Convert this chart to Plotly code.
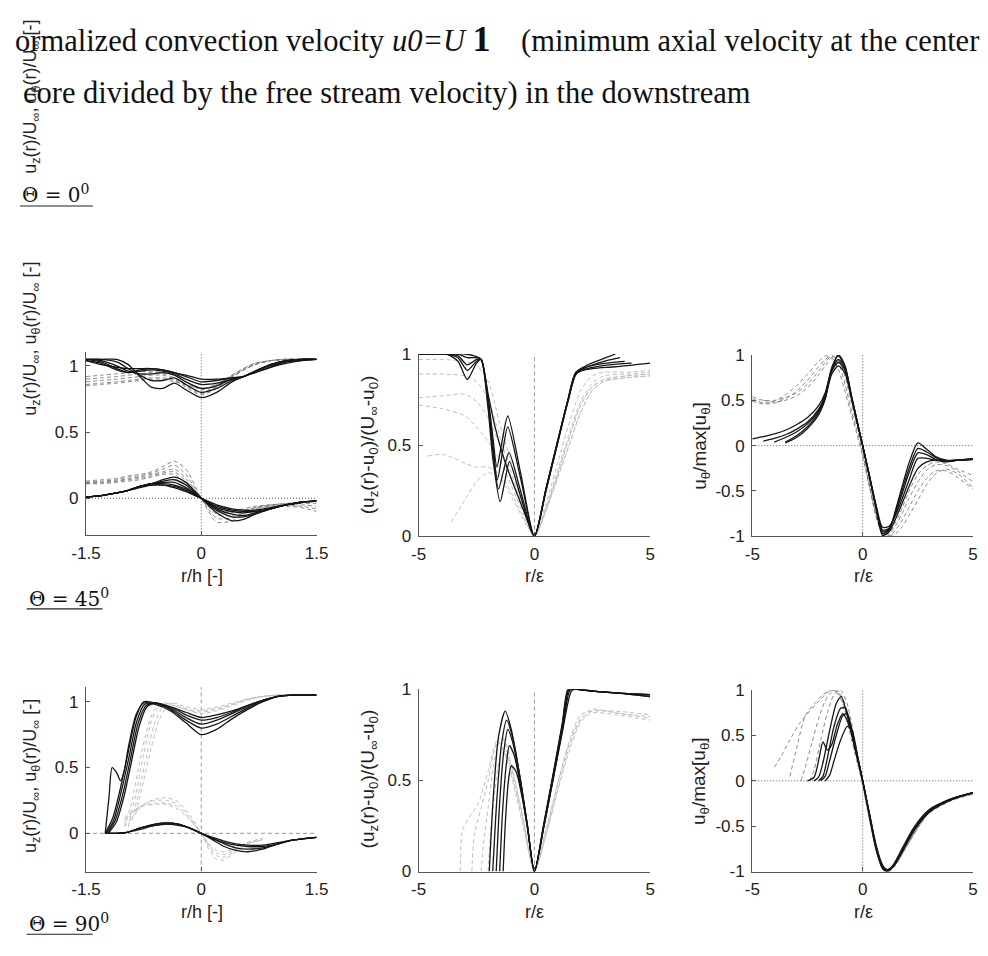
import plotly.graph_objects as go

W, H = 988, 956

# ---------------- DATA ----------------
# Panel 1 : Theta = 0 deg, u_z/U and u_theta/U versus r/h
P1_X = [-1.5, -1.3, -1.1, -0.95, -0.8, -0.65, -0.5, -0.35, -0.2, 0.0, 0.2, 0.4, 0.55, 0.7, 0.9, 1.1, 1.3, 1.5]
P1_UZ_SOLID = [
    [1.05, 1.05, 1.05, 1.01, 0.92, 0.84, 0.83, 0.87, 0.82, 0.76, 0.80, 0.88, 0.92, 0.96, 1.01, 1.04, 1.05, 1.05],
    [1.05, 1.05, 1.03, 0.98, 0.93, 0.89, 0.89, 0.91, 0.86, 0.80, 0.83, 0.89, 0.92, 0.96, 1.01, 1.04, 1.05, 1.05],
    [1.05, 1.04, 1.00, 0.96, 0.94, 0.94, 0.95, 0.93, 0.88, 0.83, 0.85, 0.90, 0.92, 0.96, 1.01, 1.04, 1.05, 1.05],
    [1.05, 1.03, 0.98, 0.95, 0.96, 0.97, 0.96, 0.94, 0.90, 0.86, 0.87, 0.90, 0.92, 0.96, 1.00, 1.03, 1.05, 1.05],
    [1.04, 1.02, 0.97, 0.95, 0.97, 0.98, 0.97, 0.95, 0.92, 0.88, 0.89, 0.91, 0.92, 0.95, 0.99, 1.03, 1.04, 1.05],
    [1.04, 1.01, 0.99, 0.98, 0.98, 0.98, 0.97, 0.95, 0.93, 0.90, 0.90, 0.91, 0.92, 0.95, 0.99, 1.02, 1.04, 1.05],
]
P1_UZ_DASH = [
    [0.92, 0.93, 0.94, 0.95, 0.96, 0.96, 0.95, 0.93, 0.88, 0.82, 0.86, 0.93, 0.98, 1.02, 1.04, 1.05, 1.05, 1.05],
    [0.90, 0.91, 0.92, 0.93, 0.94, 0.95, 0.94, 0.91, 0.86, 0.80, 0.85, 0.93, 0.98, 1.02, 1.04, 1.05, 1.05, 1.05],
    [0.88, 0.89, 0.90, 0.91, 0.92, 0.93, 0.93, 0.90, 0.85, 0.79, 0.84, 0.92, 0.97, 1.01, 1.04, 1.05, 1.05, 1.05],
    [0.86, 0.87, 0.88, 0.89, 0.90, 0.91, 0.91, 0.89, 0.84, 0.78, 0.83, 0.91, 0.97, 1.01, 1.04, 1.05, 1.05, 1.05],
    [0.85, 0.86, 0.87, 0.88, 0.89, 0.90, 0.90, 0.88, 0.86, 0.83, 0.86, 0.92, 0.97, 1.01, 1.04, 1.05, 1.05, 1.05],
]
P1_UT_SOLID = [
    [0.01, 0.02, 0.04, 0.06, 0.09, 0.11, 0.14, 0.16, 0.12, 0.00, -0.11, -0.17, -0.16, -0.12, -0.08, -0.05, -0.03, -0.02],
    [0.01, 0.02, 0.04, 0.06, 0.09, 0.11, 0.13, 0.14, 0.10, 0.00, -0.09, -0.14, -0.14, -0.12, -0.08, -0.05, -0.03, -0.02],
    [0.01, 0.02, 0.04, 0.06, 0.09, 0.11, 0.12, 0.12, 0.08, 0.00, -0.08, -0.12, -0.13, -0.11, -0.08, -0.05, -0.03, -0.02],
    [0.01, 0.02, 0.04, 0.06, 0.09, 0.11, 0.11, 0.10, 0.07, 0.00, -0.07, -0.10, -0.11, -0.10, -0.08, -0.05, -0.03, -0.02],
    [0.01, 0.02, 0.04, 0.06, 0.09, 0.10, 0.10, 0.09, 0.06, 0.00, -0.06, -0.09, -0.10, -0.10, -0.08, -0.05, -0.03, -0.02],
    [0.01, 0.02, 0.04, 0.06, 0.08, 0.10, 0.10, 0.08, 0.05, 0.00, -0.05, -0.08, -0.09, -0.09, -0.07, -0.05, -0.03, -0.02],
]
P1_UT_DASH = [
    [0.13, 0.14, 0.15, 0.17, 0.18, 0.20, 0.24, 0.28, 0.22, 0.00, -0.18, -0.17, -0.12, -0.08, -0.06, -0.05, -0.06, -0.08],
    [0.12, 0.13, 0.14, 0.16, 0.17, 0.19, 0.22, 0.25, 0.18, 0.00, -0.15, -0.15, -0.11, -0.08, -0.06, -0.06, -0.07, -0.10],
    [0.12, 0.12, 0.13, 0.15, 0.16, 0.18, 0.20, 0.22, 0.15, 0.00, -0.12, -0.13, -0.10, -0.07, -0.05, -0.05, -0.05, -0.06],
    [0.11, 0.12, 0.13, 0.14, 0.15, 0.17, 0.19, 0.20, 0.13, 0.00, -0.10, -0.11, -0.09, -0.07, -0.05, -0.04, -0.04, -0.04],
    [0.11, 0.11, 0.12, 0.13, 0.14, 0.16, 0.18, 0.18, 0.11, 0.00, -0.09, -0.10, -0.08, -0.06, -0.05, -0.04, -0.03, -0.03],
]

# Panel 2 : Theta = 0 deg, (u_z - u0)/(U - u0) versus r/eps
P2_SOLID_X = [
    [-5, -3.8, -3.3, -2.9, -2.5, -2.3, -2.0, -1.8, -1.62, -1.4, -1.15, -0.6, 0, 0.5, 1.0, 1.45, 1.8, 2.3, 2.9, 3.5],
    [-5, -3.8, -3.3, -2.9, -2.5, -2.3, -2.0, -1.8, -1.6, -1.38, -1.15, -0.6, 0, 0.5, 1.0, 1.45, 1.8, 2.3, 3.0, 3.7],
    [-5, -3.8, -3.3, -2.9, -2.5, -2.3, -2.0, -1.8, -1.55, -1.33, -1.1, -0.6, 0, 0.5, 1.0, 1.45, 1.8, 2.3, 3.1, 3.9],
    [-5, -3.8, -3.3, -2.9, -2.5, -2.3, -2.0, -1.8, -1.48, -1.28, -1.08, -0.6, 0, 0.5, 1.0, 1.45, 1.8, 2.3, 3.2, 4.2],
    [-5, -3.0, -2.6, -2.3, -2.0, -1.7, -1.3, -0.8, -0.4, 0, 0.5, 1.0, 1.45, 1.8, 2.5, 3.5, 5.0],
]
P2_SOLID_Y = [
    [1, 1, 0.96, 0.86, 0.95, 0.97, 0.76, 0.55, 0.38, 0.52, 0.66, 0.35, 0, 0.26, 0.52, 0.75, 0.90, 0.94, 0.97, 1.0],
    [1, 1, 0.98, 0.91, 0.96, 0.97, 0.74, 0.51, 0.31, 0.46, 0.60, 0.32, 0, 0.26, 0.52, 0.75, 0.90, 0.93, 0.96, 0.98],
    [1, 1, 0.99, 0.94, 0.97, 0.97, 0.72, 0.47, 0.26, 0.36, 0.46, 0.25, 0, 0.25, 0.51, 0.74, 0.89, 0.93, 0.95, 0.96],
    [1, 1, 1, 0.98, 0.98, 0.97, 0.70, 0.43, 0.19, 0.30, 0.41, 0.22, 0, 0.25, 0.51, 0.74, 0.89, 0.92, 0.94, 0.95],
    [1, 1, 0.99, 0.97, 0.78, 0.60, 0.42, 0.25, 0.12, 0, 0.26, 0.52, 0.75, 0.90, 0.92, 0.93, 0.95],
]
P2_DASH_X = [
    [-5, -4, -3, -2.5, -2, -1.5, -1, -0.5, 0, 0.5, 1, 1.5, 2, 2.5, 3, 4, 5],
    [-5, -4, -3, -2.5, -2, -1.5, -1, -0.5, 0, 0.5, 1, 1.5, 2, 2.5, 3, 4, 5],
    [-5, -4, -3, -2.5, -2, -1.5, -1, -0.5, 0, 0.5, 1, 1.5, 2, 2.5, 3, 4, 5],
    [-5, -4, -3, -2.5, -2, -1.5, -1, -0.5, 0, 0.5, 1, 1.5, 2, 2.5, 3, 4, 5],
    [-4.6, -4, -3.5, -3, -2.5, -2, -1.5, -1, -0.5, 0, 0.5, 1, 1.5, 2, 2.5, 3, 4, 5],
    [-3.6, -3, -2.5, -2, -1.5, -1, -0.5, 0, 0.5, 1, 1.5, 2, 2.5, 3, 4, 5],
]
P2_DASH_Y = [
    [0.97, 0.97, 0.96, 0.94, 0.85, 0.62, 0.40, 0.18, 0, 0.18, 0.40, 0.62, 0.80, 0.88, 0.90, 0.90, 0.91],
    [0.89, 0.89, 0.88, 0.85, 0.75, 0.55, 0.35, 0.16, 0, 0.16, 0.36, 0.56, 0.74, 0.84, 0.88, 0.89, 0.90],
    [0.76, 0.77, 0.78, 0.74, 0.65, 0.50, 0.32, 0.15, 0, 0.15, 0.34, 0.54, 0.72, 0.82, 0.86, 0.88, 0.89],
    [0.72, 0.70, 0.66, 0.60, 0.52, 0.42, 0.28, 0.13, 0, 0.14, 0.32, 0.50, 0.68, 0.80, 0.85, 0.87, 0.88],
    [0.44, 0.45, 0.43, 0.40, 0.38, 0.38, 0.34, 0.24, 0.11, 0, 0.14, 0.32, 0.50, 0.68, 0.80, 0.85, 0.87, 0.88],
    [0.08, 0.20, 0.30, 0.35, 0.32, 0.22, 0.10, 0, 0.15, 0.34, 0.54, 0.72, 0.82, 0.86, 0.88, 0.89],
]

# Panel 3 : Theta = 0 deg, u_theta / max(u_theta) versus r/eps
P3_X = [-5, -4.5, -4, -3.5, -3, -2.5, -2, -1.7, -1.4, -1.1, -0.8, -0.5, -0.25, 0, 0.3, 0.6, 0.9, 1.2, 1.5, 1.8, 2.1, 2.5, 2.9, 3.3, 3.8, 4.3, 5]
P3_SOLID = [
    [0.075, 0.10, 0.13, 0.17, 0.23, 0.31, 0.44, 0.58, 0.86, 1.0, 0.88, 0.54, 0.27, 0.0, -0.33, -0.68, -0.97, -0.93, -0.70, -0.44, -0.19, 0.03, -0.04, -0.12, -0.16, -0.16, -0.15],
    [None, 0.05, 0.08, 0.12, 0.18, 0.26, 0.40, 0.56, 0.84, 0.95, 0.85, 0.53, 0.26, 0, -0.33, -0.67, -0.95, -0.92, -0.72, -0.48, -0.25, -0.03, -0.07, -0.13, -0.17, -0.16, -0.15],
    [None, None, 0.04, 0.09, 0.15, 0.24, 0.38, 0.54, 0.82, 0.92, 0.83, 0.52, 0.26, 0, -0.33, -0.66, -0.93, -0.91, -0.74, -0.52, -0.30, -0.08, -0.10, -0.15, -0.17, -0.16, -0.15],
    [None, None, None, 0.04, 0.11, 0.21, 0.36, 0.52, 0.79, 0.88, 0.80, 0.51, 0.25, 0, -0.32, -0.65, -0.90, -0.89, -0.76, -0.58, -0.38, -0.14, -0.14, -0.16, -0.17, -0.16, -0.15],
    [None, None, None, 0.03, 0.09, 0.19, 0.34, 0.51, 0.85, 0.99, 0.87, 0.54, 0.27, 0, -0.34, -0.69, -0.99, -0.95, -0.80, -0.63, -0.45, -0.25, -0.18, -0.16, -0.18, -0.16, -0.15],
]
P3_DASH = [
    [0.52, 0.47, 0.49, 0.56, 0.66, 0.79, 0.93, 0.99, 0.97, 0.84, 0.60, 0.33, 0.12, -0.12, -0.45, -0.74, -0.92, -0.99, -0.97, -0.89, -0.77, -0.60, -0.43, -0.31, -0.26, -0.31, -0.46],
    [0.49, 0.46, 0.47, 0.52, 0.60, 0.72, 0.87, 0.95, 0.99, 0.91, 0.68, 0.38, 0.16, -0.08, -0.44, -0.76, -0.95, -0.99, -0.93, -0.82, -0.68, -0.50, -0.36, -0.28, -0.28, -0.35, -0.48],
    [0.54, 0.50, 0.50, 0.53, 0.58, 0.68, 0.82, 0.92, 0.99, 0.95, 0.76, 0.46, 0.21, -0.05, -0.43, -0.77, -0.96, -0.97, -0.88, -0.74, -0.58, -0.40, -0.27, -0.21, -0.22, -0.28, -0.40],
    [None, 0.50, 0.48, 0.50, 0.55, 0.64, 0.78, 0.88, 0.97, 0.99, 0.83, 0.52, 0.25, -0.03, -0.42, -0.78, -0.97, -0.96, -0.84, -0.68, -0.50, -0.32, -0.22, -0.18, -0.20, -0.26, -0.33],
]

# Panel 4 : Theta = 45 deg, u_z/U and u_theta/U versus r/h
P4_UZ_SOLID_X = [
    [-1.25, -1.2, -1.16, -1.1, -1.05, -1.0, -0.95, -0.85, -0.75, -0.6, -0.4, -0.2, 0, 0.2, 0.4, 0.6, 0.8, 1.0, 1.2, 1.5],
    [-1.25, -1.15, -1.05, -0.95, -0.85, -0.75, -0.6, -0.4, -0.2, 0, 0.2, 0.4, 0.6, 0.8, 1.0, 1.2, 1.5],
    [-1.24, -1.14, -1.04, -0.94, -0.84, -0.74, -0.6, -0.4, -0.2, 0, 0.2, 0.4, 0.6, 0.8, 1.0, 1.2, 1.5],
    [-1.22, -1.12, -1.02, -0.92, -0.82, -0.72, -0.6, -0.4, -0.2, 0, 0.2, 0.4, 0.6, 0.8, 1.0, 1.2, 1.5],
    [-1.21, -1.11, -1.01, -0.91, -0.81, -0.71, -0.6, -0.4, -0.2, 0, 0.2, 0.4, 0.6, 0.8, 1.0, 1.2, 1.5],
]
P4_UZ_SOLID_Y = [
    [0, 0.28, 0.50, 0.46, 0.40, 0.48, 0.65, 0.90, 0.99, 0.98, 0.93, 0.84, 0.75, 0.79, 0.87, 0.94, 1.00, 1.04, 1.05, 1.05],
    [0, 0.12, 0.35, 0.62, 0.88, 1.00, 0.99, 0.94, 0.86, 0.80, 0.83, 0.89, 0.95, 1.00, 1.04, 1.05, 1.05],
    [0, 0.10, 0.32, 0.58, 0.85, 0.98, 0.99, 0.95, 0.88, 0.83, 0.86, 0.91, 0.96, 1.01, 1.04, 1.05, 1.05],
    [0, 0.10, 0.30, 0.57, 0.84, 0.97, 0.99, 0.96, 0.90, 0.86, 0.88, 0.92, 0.97, 1.01, 1.04, 1.05, 1.05],
    [0, 0.08, 0.27, 0.54, 0.81, 0.96, 0.99, 0.96, 0.92, 0.88, 0.90, 0.93, 0.97, 1.01, 1.04, 1.05, 1.05],
]
P4_UZ_DASH_X = [
    [-1.0, -0.9, -0.8, -0.7, -0.6, -0.5, -0.35, -0.2, 0, 0.2, 0.4, 0.6, 0.8, 1.0, 1.5],
    [-0.95, -0.85, -0.75, -0.65, -0.55, -0.45, -0.3, -0.15, 0, 0.2, 0.4, 0.6, 0.8, 1.0, 1.5],
    [-0.9, -0.8, -0.7, -0.6, -0.5, -0.4, -0.3, -0.15, 0, 0.2, 0.4, 0.6, 0.8, 1.0, 1.5],
    [-0.85, -0.75, -0.65, -0.55, -0.45, -0.35, -0.25, -0.1, 0, 0.2, 0.4, 0.6, 0.8, 1.0, 1.5],
]
P4_UZ_DASH_Y = [
    [0.05, 0.25, 0.55, 0.80, 0.95, 0.99, 0.97, 0.94, 0.92, 0.94, 0.98, 1.02, 1.04, 1.05, 1.05],
    [0.05, 0.30, 0.60, 0.85, 0.96, 0.99, 0.96, 0.93, 0.91, 0.93, 0.97, 1.01, 1.04, 1.05, 1.05],
    [0.10, 0.35, 0.62, 0.85, 0.96, 0.99, 0.97, 0.94, 0.93, 0.95, 0.98, 1.02, 1.04, 1.05, 1.05],
    [0.15, 0.40, 0.65, 0.86, 0.96, 0.99, 0.97, 0.95, 0.94, 0.96, 0.99, 1.02, 1.04, 1.05, 1.05],
]
P4_UT_SOLID_X = [-1.25, -1.1, -0.95, -0.8, -0.6, -0.45, -0.3, -0.15, 0, 0.15, 0.3, 0.45, 0.6, 0.8, 1.0, 1.2, 1.5]
P4_UT_SOLID = [
    [0, 0, 0.01, 0.04, 0.07, 0.08, 0.07, 0.04, 0, -0.05, -0.10, -0.13, -0.14, -0.12, -0.08, -0.05, -0.03],
    [0, 0, 0.01, 0.04, 0.07, 0.08, 0.07, 0.04, 0, -0.04, -0.08, -0.11, -0.12, -0.11, -0.08, -0.05, -0.03],
    [0, 0, 0.01, 0.04, 0.06, 0.07, 0.07, 0.04, 0, -0.04, -0.07, -0.09, -0.10, -0.10, -0.08, -0.05, -0.03],
    [0, 0, 0.01, 0.03, 0.06, 0.07, 0.06, 0.04, 0, -0.03, -0.06, -0.08, -0.09, -0.09, -0.07, -0.05, -0.03],
]
P4_UT_DASH_X = [-1.0, -0.9, -0.75, -0.6, -0.45, -0.3, -0.15, 0, 0.1, 0.2, 0.3, 0.45, 0.6, 0.8]
P4_UT_DASH = [
    [0.05, 0.12, 0.22, 0.26, 0.27, 0.24, 0.14, 0, -0.12, -0.20, -0.20, -0.14, -0.08, -0.05],
    [0.08, 0.15, 0.22, 0.25, 0.25, 0.22, 0.12, 0, -0.10, -0.17, -0.18, -0.13, -0.08, -0.05],
    [0.10, 0.16, 0.21, 0.23, 0.23, 0.20, 0.11, 0, -0.09, -0.15, -0.16, -0.12, -0.07, -0.04],
    [0.12, 0.17, 0.21, 0.22, 0.22, 0.18, 0.10, 0, -0.08, -0.13, -0.14, -0.11, -0.07, -0.04],
]

# Panel 5 : Theta = 45 deg, (u_z - u0)/(U - u0) versus r/eps
P5_SOLID_X = [
    [-1.95, -1.78, -1.55, -1.26, -1.0, -0.6, -0.3, 0, 0.4, 0.8, 1.2, 1.6, 1.8, 2.5, 3.5, 5],
    [-1.8, -1.62, -1.42, -1.2, -0.95, -0.6, -0.3, 0, 0.4, 0.8, 1.2, 1.55, 1.75, 2.5, 3.5, 5],
    [-1.65, -1.5, -1.32, -1.15, -0.92, -0.6, -0.3, 0, 0.4, 0.8, 1.2, 1.5, 1.7, 2.5, 3.5, 5],
    [-1.5, -1.38, -1.22, -1.08, -0.88, -0.6, -0.3, 0, 0.4, 0.8, 1.2, 1.45, 1.65, 2.5, 3.5, 5],
    [-1.35, -1.25, -1.12, -1.0, -0.8, -0.55, -0.3, 0, 0.4, 0.8, 1.2, 1.45, 1.65, 2.5, 3.5, 5],
]
P5_SOLID_Y = [
    [0, 0.40, 0.74, 0.88, 0.78, 0.50, 0.25, 0, 0.24, 0.50, 0.76, 0.99, 1.0, 0.99, 0.98, 0.97],
    [0, 0.40, 0.70, 0.83, 0.74, 0.50, 0.25, 0, 0.24, 0.50, 0.77, 1.0, 1.0, 0.99, 0.98, 0.97],
    [0, 0.38, 0.66, 0.78, 0.70, 0.49, 0.25, 0, 0.25, 0.52, 0.79, 1.0, 1.0, 0.99, 0.98, 0.97],
    [0, 0.32, 0.58, 0.69, 0.64, 0.47, 0.24, 0, 0.25, 0.52, 0.80, 0.99, 1.0, 0.99, 0.98, 0.96],
    [0, 0.28, 0.50, 0.58, 0.55, 0.42, 0.24, 0, 0.26, 0.53, 0.81, 1.0, 1.0, 0.99, 0.98, 0.96],
]
P5_DASH_X = [
    [-3.2, -3.1, -2.8, -2.4, -2.0, -1.6, -1.2, -0.8, -0.4, 0, 0.4, 0.8, 1.2, 1.6, 2.0, 2.5, 3.0, 4.0, 5.0],
    [-2.7, -2.6, -2.3, -2.0, -1.7, -1.4, -1.0, -0.5, 0, 0.5, 1.0, 1.5, 2.0, 2.5, 3.5, 5],
    [-2.3, -2.2, -2.0, -1.8, -1.55, -1.3, -0.9, -0.5, 0, 0.5, 1.0, 1.5, 2.0, 2.5, 3.5, 5],
    [-2.0, -1.9, -1.7, -1.5, -1.3, -1.0, -0.5, 0, 0.5, 1.0, 1.5, 2.0, 2.5, 3.5, 5],
]
P5_DASH_Y = [
    [0.0, 0.23, 0.30, 0.38, 0.55, 0.72, 0.62, 0.42, 0.20, 0, 0.18, 0.38, 0.58, 0.75, 0.86, 0.88, 0.88, 0.86, 0.84],
    [0, 0.20, 0.35, 0.50, 0.68, 0.74, 0.55, 0.28, 0, 0.22, 0.48, 0.70, 0.84, 0.89, 0.87, 0.85],
    [0, 0.15, 0.35, 0.55, 0.70, 0.72, 0.52, 0.30, 0, 0.20, 0.45, 0.68, 0.83, 0.88, 0.88, 0.86],
    [0, 0.20, 0.45, 0.62, 0.66, 0.58, 0.30, 0, 0.20, 0.44, 0.66, 0.82, 0.87, 0.86, 0.83],
]

# Panel 6 : Theta = 45 deg, u_theta / max(u_theta) versus r/eps
P6_SOLID_X = [
    [-2.5, -2.2, -1.95, -1.8, -1.6, -1.4, -1.15, -0.9, -0.6, -0.3, 0, 0.3, 0.6, 0.9, 1.1, 1.4, 1.8, 2.3, 3.0, 4.0, 5.0],
    [-2.2, -2.0, -1.8, -1.5, -1.2, -0.97, -0.6, -0.3, 0, 0.3, 0.6, 0.9, 1.1, 1.4, 1.8, 2.3, 3.0, 4.0, 5.0],
    [-2.0, -1.8, -1.6, -1.3, -1.0, -0.78, -0.4, 0, 0.3, 0.6, 0.9, 1.1, 1.4, 1.8, 2.3, 3.0, 4.0, 5.0],
    [-1.9, -1.7, -1.5, -1.2, -0.9, -0.7, -0.35, 0, 0.3, 0.6, 0.9, 1.1, 1.4, 1.8, 2.3, 3.0, 4.0, 5.0],
    [-1.7, -1.5, -1.3, -1.0, -0.7, -0.5, -0.25, 0, 0.3, 0.6, 0.9, 1.1, 1.4, 1.8, 2.3, 3.0, 4.0, 5.0],
]
P6_SOLID_Y = [
    [0, 0.04, 0.28, 0.43, 0.34, 0.40, 0.62, 0.74, 0.60, 0.31, 0, -0.36, -0.72, -0.95, -1.0, -0.94, -0.77, -0.55, -0.34, -0.21, -0.13],
    [0, 0.04, 0.20, 0.55, 0.85, 0.93, 0.62, 0.31, 0, -0.38, -0.75, -0.97, -1.0, -0.92, -0.74, -0.52, -0.32, -0.20, -0.13],
    [0, 0.05, 0.25, 0.60, 0.80, 0.80, 0.42, 0, -0.37, -0.73, -0.95, -0.99, -0.93, -0.76, -0.54, -0.33, -0.20, -0.13],
    [0, 0.05, 0.22, 0.50, 0.72, 0.74, 0.40, 0, -0.36, -0.72, -0.94, -0.98, -0.93, -0.77, -0.55, -0.34, -0.20, -0.13],
    [0, 0.06, 0.22, 0.45, 0.60, 0.57, 0.30, 0, -0.35, -0.70, -0.93, -0.98, -0.94, -0.78, -0.56, -0.35, -0.21, -0.13],
]
P6_DASH_X = [
    [-4.0, -3.7, -3.3, -2.9, -2.5, -2.1, -1.7, -1.4, -1.1, -0.8, -0.5, -0.2, 0, 0.3, 0.6, 0.9, 1.2, 1.5, 2.0, 2.5, 3.0, 4.0, 5.0],
    [-3.3, -3.0, -2.6, -2.2, -1.8, -1.5, -1.2, -0.9, -0.6, -0.3, 0, 0.3, 0.6, 0.9, 1.2, 1.5, 2.0, 2.5, 3.0, 4.0, 5.0],
    [-2.8, -2.6, -2.3, -2.0, -1.7, -1.4, -1.1, -0.8, -0.5, -0.2, 0, 0.3, 0.6, 0.9, 1.2, 1.5, 2.0, 2.5, 3.0, 4.0, 5.0],
    [-2.4, -2.2, -1.9, -1.6, -1.3, -1.0, -0.7, -0.4, -0.15, 0, 0.3, 0.6, 0.9, 1.2, 1.5, 2.0, 2.5, 3.0, 4.0, 5.0],
]
P6_DASH_Y = [
    [0.15, 0.27, 0.45, 0.62, 0.74, 0.85, 0.95, 1.0, 0.97, 0.80, 0.50, 0.18, -0.05, -0.42, -0.75, -0.95, -0.99, -0.92, -0.72, -0.52, -0.36, -0.22, -0.15],
    [0.05, 0.35, 0.72, 0.85, 0.95, 1.0, 0.98, 0.85, 0.55, 0.25, -0.04, -0.42, -0.76, -0.96, -0.99, -0.91, -0.70, -0.50, -0.34, -0.21, -0.14],
    [0.0, 0.15, 0.42, 0.68, 0.88, 0.98, 0.99, 0.85, 0.55, 0.20, -0.02, -0.40, -0.75, -0.96, -0.99, -0.92, -0.71, -0.51, -0.35, -0.21, -0.14],
    [0.0, 0.12, 0.45, 0.75, 0.95, 1.0, 0.85, 0.50, 0.18, 0, -0.39, -0.74, -0.95, -1.0, -0.93, -0.72, -0.52, -0.35, -0.21, -0.14],
]

# Axis ticks
TICKS_RH = [-1.5, 0, 1.5]
TICKS_RH_TXT = ["-1.5", "0", "1.5"]
TICKS_RE = [-5, 0, 5]
TICKS_RE_TXT = ["-5", "0", "5"]
TICKS_U = [0, 0.5, 1]
TICKS_U_TXT = ["0", "0.5", "1"]
TICKS_T = [-1, -0.5, 0, 0.5, 1]
TICKS_T_TXT = ["-1", "-0.5", "0", "0.5", "1"]

# ---------------- FIGURE ----------------
fig = go.Figure()

SOLID = dict(color="#151515", width=1.3)
DASH_DARK = dict(color="#7a7a7a", width=0.9, dash="4px,3px")
DASH_LIGHT = dict(color="#bdbdbd", width=1.0, dash="4px,3px")


def add_curves(xs_list, ys_list, n, style):
    ax = "" if n == 1 else str(n)
    for xs, ys in zip(xs_list, ys_list):
        pts = [(a, b) for a, b in zip(xs, ys) if b is not None]
        fig.add_trace(go.Scatter(
            x=[p[0] for p in pts], y=[p[1] for p in pts], mode="lines",
            line=dict(shape="spline", smoothing=0.7, **style),
            xaxis="x" + ax, yaxis="y" + ax, hoverinfo="skip", showlegend=False))


add_curves([P1_X] * len(P1_UZ_DASH), P1_UZ_DASH, 1, DASH_DARK)
add_curves([P1_X] * len(P1_UT_DASH), P1_UT_DASH, 1, DASH_DARK)
add_curves([P1_X] * len(P1_UZ_SOLID), P1_UZ_SOLID, 1, SOLID)
add_curves([P1_X] * len(P1_UT_SOLID), P1_UT_SOLID, 1, SOLID)

add_curves(P2_DASH_X, P2_DASH_Y, 2, DASH_LIGHT)
add_curves(P2_SOLID_X, P2_SOLID_Y, 2, SOLID)

add_curves([P3_X] * len(P3_DASH), P3_DASH, 3, DASH_DARK)
add_curves([P3_X] * len(P3_SOLID), P3_SOLID, 3, SOLID)

add_curves(P4_UZ_DASH_X, P4_UZ_DASH_Y, 4, DASH_LIGHT)
add_curves([P4_UT_DASH_X] * len(P4_UT_DASH), P4_UT_DASH, 4, DASH_LIGHT)
add_curves(P4_UZ_SOLID_X, P4_UZ_SOLID_Y, 4, SOLID)
add_curves([P4_UT_SOLID_X] * len(P4_UT_SOLID), P4_UT_SOLID, 4, SOLID)

add_curves(P5_DASH_X, P5_DASH_Y, 5, DASH_LIGHT)
add_curves(P5_SOLID_X, P5_SOLID_Y, 5, SOLID)

add_curves(P6_DASH_X, P6_DASH_Y, 6, DASH_DARK)
add_curves(P6_SOLID_X, P6_SOLID_Y, 6, SOLID)


def px(xp):
    return xp / W


def py(yp):
    return 1 - yp / H


TICKFONT = dict(family="Liberation Sans, Arial, sans-serif", size=17, color="#222")


def xaxis(l, r, rng, tv, tt, anchor):
    return dict(domain=[px(l), px(r)], range=rng, tickvals=tv, ticktext=tt, anchor=anchor,
                showline=True, linecolor="#555", linewidth=1.3, ticks="inside", ticklen=4,
                tickcolor="#555", showgrid=False, zeroline=False, tickfont=TICKFONT,
                fixedrange=True, ticklabelstandoff=2)


def yaxis(b, t, rng, tv, tt, anchor):
    return dict(domain=[py(b), py(t)], range=rng, tickvals=tv, ticktext=tt, anchor=anchor,
                showline=True, linecolor="#555", linewidth=1.3, ticks="inside", ticklen=4,
                tickcolor="#555", showgrid=False, zeroline=False, tickfont=TICKFONT,
                fixedrange=True, ticklabelstandoff=3)


layout_axes = {}
layout_axes["xaxis"] = xaxis(73, 310, [-1.5, 1.5], TICKS_RH, TICKS_RH_TXT, "y")
layout_axes["yaxis"] = yaxis(537, 350, [-0.28, 1.105], TICKS_U, TICKS_U_TXT, "x")
layout_axes["xaxis2"] = xaxis(415, 653, [-5, 5], TICKS_RE, TICKS_RE_TXT, "y2")
layout_axes["yaxis2"] = yaxis(538, 352, [0, 1], TICKS_U, TICKS_U_TXT, "x2")
layout_axes["xaxis3"] = xaxis(758, 985, [-5, 5], TICKS_RE, TICKS_RE_TXT, "y3")
layout_axes["yaxis3"] = yaxis(538, 353, [-1, 1], TICKS_T, TICKS_T_TXT, "x3")
layout_axes["xaxis4"] = xaxis(73, 310, [-1.5, 1.5], TICKS_RH, TICKS_RH_TXT, "y4")
layout_axes["yaxis4"] = yaxis(880, 692, [-0.29, 1.11], TICKS_U, TICKS_U_TXT, "x4")
layout_axes["xaxis5"] = xaxis(415, 653, [-5, 5], TICKS_RE, TICKS_RE_TXT, "y5")
layout_axes["yaxis5"] = yaxis(880, 694, [0, 1], TICKS_U, TICKS_U_TXT, "x5")
layout_axes["xaxis6"] = xaxis(758, 985, [-5, 5], TICKS_RE, TICKS_RE_TXT, "y6")
layout_axes["yaxis6"] = yaxis(880, 695, [-1, 1], TICKS_T, TICKS_T_TXT, "x6")

DOT = dict(color="#444", width=0.9, dash="1px,2px")
DSH = dict(color="#999", width=1.0, dash="4px,3px")
shapes = []


def vline(n, st):
    ax = "" if n == 1 else str(n)
    shapes.append(dict(type="line", xref="x" + ax, yref="y" + ax + " domain", x0=0, x1=0, y0=0, y1=1, line=st, layer="below"))


def hline(n, st):
    ax = "" if n == 1 else str(n)
    shapes.append(dict(type="line", xref="x" + ax + " domain", yref="y" + ax, x0=0, x1=1, y0=0, y1=0, line=st, layer="below"))


vline(1, DOT); hline(1, DOT)
vline(2, DSH)
vline(3, DOT); hline(3, DOT)
vline(4, DSH); hline(4, DSH)
vline(5, DSH)
vline(6, DOT); hline(6, DOT)

# underlines of the Theta headings
for (x0, x1, yy) in [(5, 80, 201), (12, 90, 612), (12, 80, 944)]:
    shapes.append(dict(type="line", xref="paper", yref="paper", x0=px(x0), x1=px(x1), y0=py(yy), y1=py(yy),
                       line=dict(color="#222", width=1.2)))

LABELFONT = dict(family="Liberation Sans, Arial, sans-serif", size=18, color="#222")
LABELFONT2 = dict(family="Liberation Sans, Arial, sans-serif", size=19, color="#222")
SERIF = dict(family="Liberation Serif, Times New Roman, serif", size=30.5, color="#111")
THETAFONT = dict(family="DejaVu Serif, Liberation Serif, serif", size=20, color="#111")

annotations = []


def ann(text, x, y, font, angle=0, xanchor="center", yanchor="middle"):
    annotations.append(dict(text=text, x=px(x), y=py(y), xref="paper", yref="paper", showarrow=False,
                            font=font, textangle=angle, xanchor=xanchor, yanchor=yanchor))


YL1 = "u<sub>z</sub>(r)/U<sub>\u221e</sub>, u<sub>\u03b8</sub>(r)/U<sub>\u221e</sub> [-]"
YL2 = "(u<sub>z</sub>(r)-u<sub>0</sub>)/(U<sub>\u221e</sub>-u<sub>0</sub>)"
YL3 = "u<sub>\u03b8</sub>/max[u<sub>\u03b8</sub>]"

NB = "\u00a0"
# excerpt of the page text above the figure
ann("ormalized convection velocity <i>u0=U</i>" + NB + "<b><span style='font-size:36px'>1</span></b>" + NB * 4 +
    "(minimum axial velocity at the center", -2, 31, SERIF, xanchor="left")
ann("core divided by the free stream velocity) in the downstream", 6, 86, SERIF, xanchor="left")

# axis label of a figure above, partially visible
ann(YL1, 17, 90, LABELFONT, angle=-90)

ann("\u0398 = 0<sup>0</sup>", 5, 189, THETAFONT, xanchor="left")
ann("\u0398 = 45<sup>0</sup>", 12, 601, THETAFONT, xanchor="left")
ann("\u0398 = 90<sup>0</sup>", 12, 933, THETAFONT, xanchor="left")

ann(YL1, 17, 337, LABELFONT, angle=-90)
ann(YL2, 364, 445, LABELFONT2, angle=-90)
ann(YL3, 705, 446, LABELFONT2, angle=-90)
ann("r/h [-]", 192, 578, LABELFONT)
ann("r/\u03b5", 534, 578, LABELFONT)
ann("r/\u03b5", 872, 578, LABELFONT)
ann(YL1, 17, 783, LABELFONT, angle=-90)
ann(YL2, 364, 786, LABELFONT2, angle=-90)
ann(YL3, 705, 788, LABELFONT2, angle=-90)
ann("r/h [-]", 192, 921, LABELFONT)
ann("r/\u03b5", 534, 921, LABELFONT)
ann("r/\u03b5", 872, 921, LABELFONT)

fig.update_layout(
    width=W, height=H, margin=dict(l=0, r=0, t=0, b=0),
    paper_bgcolor="white", plot_bgcolor="white",
    shapes=shapes, annotations=annotations, showlegend=False,
    **layout_axes,
)

fig.write_html("out.html", config={"displayModeBar": False, "responsive": False})
